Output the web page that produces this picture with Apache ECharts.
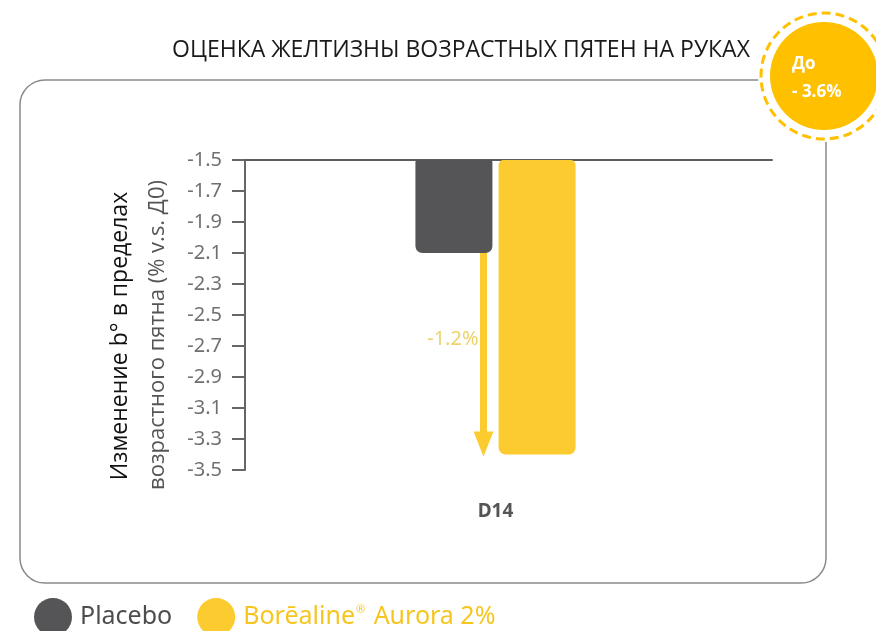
<!DOCTYPE html>
<html>
<head>
<meta charset="utf-8">
<script src="https://cdn.jsdelivr.net/npm/echarts@6/dist/echarts.min.js"></script>
<style>
  html, body { margin: 0; padding: 0; background: #ffffff; }
  #chart { width: 876px; height: 631px; }
</style>
</head>
<body>
<div id="chart"></div>
<script>
// Chart data
const categories = ['D14'];
const placeboValues = [-2.1];
const auroraValues = [-3.4];
const seriesNames = ['Placebo', 'Borēaline® Aurora 2%'];
const yTickValues = [-3.5, -3.3, -3.1, -2.9, -2.7, -2.5, -2.3, -2.1, -1.9, -1.7, -1.5];
const yMin = -3.5;
const yMax = -1.5;
const diffLabel = '-1.2%';
const badgeLines = ['До', '- 3.6%'];
const titleText = 'ОЦЕНКА ЖЕЛТИЗНЫ ВОЗРАСТНЫХ ПЯТЕН НА РУКАХ';
const yNameLine1 = 'Изменение b° в пределах';
const yNameLine2 = 'возрастного пятна (% v.s. Д0)';

const GREY = '#555557';
const YELLOW = '#FBCB2F';
const BADGE = '#FFC000';

const chart = echarts.init(document.getElementById('chart'), null, { renderer: 'canvas' });

const option = {
  backgroundColor: '#ffffff',
  animation: false,
  grid: [
    { left: 245, right: 130, top: 160, bottom: 161 },
    { left: 245, right: 104, top: 160, bottom: 161 }
  ],
  xAxis: [
    {
      type: 'category',
      gridIndex: 0,
      data: categories,
      axisLine: { show: false },
      axisTick: { show: false },
      axisLabel: {
        margin: 32,
        color: '#555555',
        fontSize: 19,
        fontWeight: 'bold',
        fontFamily: 'Noto Sans'
      }
    },
    {
      type: 'category',
      gridIndex: 1,
      position: 'top',
      data: categories,
      axisLine: { show: true, lineStyle: { color: '#5c5c5c', width: 2 } },
      axisTick: { show: false },
      axisLabel: { show: false }
    }
  ],
  yAxis: [
    {
      type: 'value',
      gridIndex: 0,
      min: yMin,
      max: yMax,
      splitLine: { show: false },
      axisLine: { show: true, onZero: false, lineStyle: { color: '#666666', width: 2 } },
      axisTick: {
        show: true,
        length: 13,
        customValues: yTickValues,
        lineStyle: { color: '#666666', width: 2 }
      },
      axisLabel: {
        margin: 23,
        customValues: yTickValues,
        color: '#707070',
        fontSize: 20,
        fontFamily: 'Noto Sans',
        formatter: v => v.toFixed(1)
      }
    },
    {
      type: 'value',
      gridIndex: 1,
      min: yMin,
      max: yMax,
      show: false
    }
  ],
  legend: {
    left: 34,
    top: 598,
    padding: 0,
    itemWidth: 38,
    itemHeight: 38,
    itemGap: 25,
    icon: 'circle',
    data: seriesNames,
    selectedMode: false,
    textStyle: {
      padding: [0, 0, 0, 3],
      fontFamily: 'Noto Sans',
      fontSize: 25,
      rich: {
        p: { color: '#4d4d4d', fontSize: 25, fontFamily: 'Noto Sans' },
        a: { color: '#F7C520', fontSize: 25, fontFamily: 'Noto Sans' },
        s: { color: '#F7C520', fontSize: 11, fontFamily: 'Noto Sans', verticalAlign: 'top', padding: [0, 2, 13, 1] }
      }
    },
    formatter: name => name === seriesNames[0]
      ? '{p|' + name + '}'
      : '{a|Borēaline}{s|®}{a| Aurora 2%}'
  },
  series: [
    {
      name: seriesNames[0],
      type: 'bar',
      xAxisIndex: 0,
      yAxisIndex: 0,
      data: placeboValues,
      barWidth: 77,
      barGap: '8%',
      clip: true,
      itemStyle: { color: GREY, borderRadius: [2, 2, 7, 7] }
    },
    {
      name: seriesNames[1],
      type: 'bar',
      xAxisIndex: 0,
      yAxisIndex: 0,
      data: auroraValues,
      barWidth: 77,
      barGap: '8%',
      clip: true,
      itemStyle: { color: YELLOW, borderRadius: [5, 5, 7, 7] }
    },
    {
      // Arrow showing the drop from the placebo level to the active level
      type: 'custom',
      xAxisIndex: 0,
      yAxisIndex: 0,
      clip: false,
      silent: true,
      z: 5,
      data: categories.map((c, i) => [i, placeboValues[i], auroraValues[i]]),
      encode: { x: 0, y: [1, 2] },
      renderItem: (params, api) => {
        const from = api.coord([api.value(0), api.value(1)]);
        const to = api.coord([api.value(0), api.value(2)]);
        const x = from[0] - 12;
        const headH = 25;
        const headW = 20;
        const tipY = to[1] + 2;
        return {
          type: 'group',
          children: [
            {
              type: 'rect',
              shape: { x: x - 3.5, y: from[1], width: 7, height: tipY - headH - from[1] + 1 },
              style: { fill: YELLOW }
            },
            {
              type: 'polygon',
              shape: { points: [[x - headW / 2, tipY - headH], [x + headW / 2, tipY - headH], [x, tipY]] },
              style: { fill: YELLOW }
            },
            {
              type: 'text',
              style: {
                text: diffLabel,
                x: x - 5,
                y: from[1] + (to[1] - from[1]) * 0.43,
                align: 'right',
                verticalAlign: 'middle',
                fill: '#EDD36A',
                fontSize: 20,
                fontFamily: 'Noto Sans'
              }
            }
          ]
        };
      }
    }
  ],
  graphic: [
    {
      type: 'rect',
      z: -1,
      shape: { x: 20, y: 80, width: 806, height: 503, r: 25 },
      style: { fill: 'none', stroke: '#8a8a8a', lineWidth: 1.5 }
    },
    {
      type: 'text',
      style: {
        text: titleText,
        x: 461,
        y: 50,
        align: 'center',
        verticalAlign: 'middle',
        fill: '#1a1a1a',
        fontSize: 23,
        fontFamily: 'Open Sans'
      }
    },
    {
      type: 'text',
      rotation: Math.PI / 2,
      x: 120,
      y: 336,
      style: {
        text: yNameLine1,
        align: 'center',
        verticalAlign: 'middle',
        fill: '#111111',
        fontSize: 23,
        fontFamily: 'Open Sans'
      }
    },
    {
      type: 'text',
      rotation: Math.PI / 2,
      x: 158,
      y: 335,
      style: {
        text: yNameLine2,
        align: 'center',
        verticalAlign: 'middle',
        fill: '#555555',
        fontSize: 22,
        fontFamily: 'Open Sans'
      }
    },
    {
      type: 'circle',
      z: 10,
      shape: { cx: 824, cy: 76, r: 66 },
      style: { fill: '#ffffff' }
    },
    {
      type: 'circle',
      z: 11,
      shape: { cx: 824, cy: 76, r: 63 },
      style: { fill: 'none', stroke: BADGE, lineWidth: 3, lineDash: [9, 5] }
    },
    {
      type: 'circle',
      z: 12,
      shape: { cx: 824, cy: 76, r: 54 },
      style: { fill: BADGE }
    },
    {
      type: 'text',
      z: 13,
      style: {
        text: badgeLines[0],
        x: 792,
        y: 64,
        verticalAlign: 'middle',
        fill: '#ffffff',
        fontSize: 17,
        fontWeight: 'bold',
        fontFamily: 'Open Sans'
      }
    },
    {
      type: 'text',
      z: 13,
      style: {
        text: badgeLines[1],
        x: 792,
        y: 92,
        verticalAlign: 'middle',
        fill: '#ffffff',
        fontSize: 17,
        fontWeight: 'bold',
        fontFamily: 'Open Sans'
      }
    }
  ]
};

chart.setOption(option);
</script>
</body>
</html>
